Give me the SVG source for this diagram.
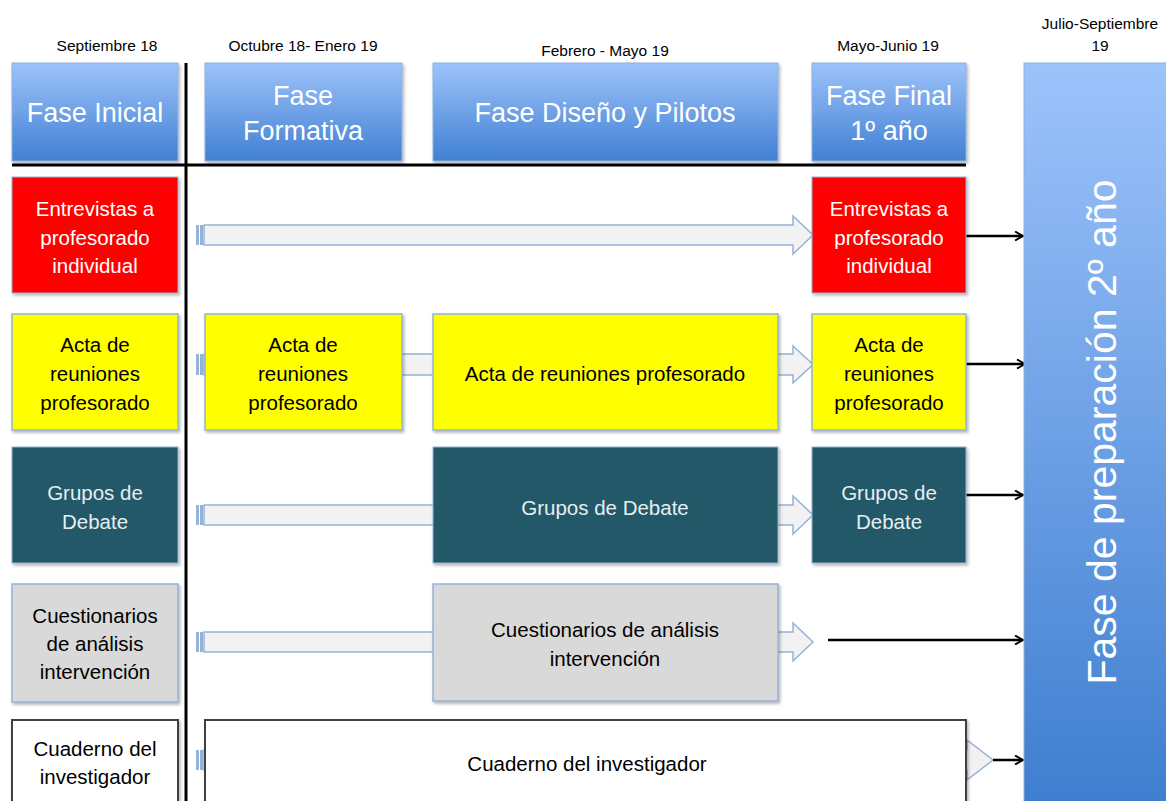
<svg xmlns="http://www.w3.org/2000/svg" width="1166" height="801" viewBox="0 0 1166 801">
<defs>
<linearGradient id="hdr" x1="0" y1="0" x2="0" y2="1">
<stop offset="0" stop-color="#9DC3FB"/>
<stop offset="1" stop-color="#4180D2"/>
</linearGradient>
<linearGradient id="big" x1="0" y1="0" x2="0" y2="1">
<stop offset="0" stop-color="#9DC3FB"/>
<stop offset="1" stop-color="#3E7ECF"/>
</linearGradient>
<filter id="sh" x="-10%" y="-10%" width="130%" height="130%">
<feDropShadow dx="1.5" dy="2" stdDeviation="1.5" flood-color="#000" flood-opacity="0.3"/>
</filter>
<marker id="ah" markerWidth="10" markerHeight="10" refX="9" refY="5" orient="auto" markerUnits="userSpaceOnUse">
<path d="M1,0.5 L9,5 L1,9.5" fill="none" stroke="#000" stroke-width="2"/>
</marker>
</defs>
<style>
text{font-family:"Liberation Sans","Open Sans",sans-serif;text-anchor:middle;dominant-baseline:central}
.date{font-size:15.5px;fill:#000}
.hdr{fill:url(#hdr);stroke:#8EB0DD;stroke-width:1;filter:url(#sh)}
.ht{font-size:27px;fill:#fff}
.bt{font-size:20.5px}
.red{fill:#FF0000;stroke:#95B3D7;stroke-width:1;filter:url(#sh)}
.yel{fill:#FFFF00;stroke:#95B3D7;stroke-width:1.5;filter:url(#sh)}
.teal{fill:#215967;stroke:#95B3D7;stroke-width:1;filter:url(#sh)}
.gray{fill:#D9D9D9;stroke:#95B3D7;stroke-width:1.5;filter:url(#sh)}
.wht{fill:#fff;stroke:#404040;stroke-width:2;filter:url(#sh)}
.blk{stroke:#000;stroke-width:3;fill:none}
.barr{fill:#F2F2F2;stroke:#95B3D7;stroke-width:1.5}
.strip{fill:#95B3D7}
.con{stroke:#000;stroke-width:2.5;fill:none;marker-end:url(#ah)}
</style>
<rect width="1166" height="801" fill="#fff"/>

<g id="dates">
<text class="date" x="107" y="45">Septiembre 18</text>
<text class="date" x="303" y="45">Octubre 18- Enero 19</text>
<text class="date" x="605" y="50">Febrero  - Mayo 19</text>
<text class="date" x="888" y="45">Mayo-Junio 19</text>
<text class="date" x="1100" y="23">Julio-Septiembre</text>
<text class="date" x="1100" y="45">19</text>
</g>

<g id="connectors">
<path class="barr" d="M204,225 H793 V216 L813,235 L793,254 V245 H204 Z"/>
<rect class="strip" x="196" y="225" width="3" height="20"/><rect class="strip" x="200" y="225" width="3" height="20"/>
<path class="barr" d="M204,354 H793 V346 L813,364.5 L793,383 V375 H204 Z"/>
<rect class="strip" x="196" y="354" width="3" height="21"/><rect class="strip" x="200" y="354" width="3" height="21"/>
<path class="barr" d="M204,505 H793 V496 L813,515 L793,534 V525 H204 Z"/>
<rect class="strip" x="196" y="505" width="3" height="20"/><rect class="strip" x="200" y="505" width="3" height="20"/>
<path class="barr" d="M204,632 H793 V623 L813,642 L793,661 V652 H204 Z"/>
<rect class="strip" x="196" y="632" width="3" height="20"/><rect class="strip" x="200" y="632" width="3" height="20"/>
<path class="barr" d="M204,750 H967 V740 L993,760 L967,780 V770 H204 Z"/>
<rect class="strip" x="196" y="750" width="3" height="20"/><rect class="strip" x="200" y="750" width="3" height="20"/>
<line class="con" x1="966" y1="236" x2="1023" y2="236"/>
<line class="con" x1="966" y1="364" x2="1025" y2="364"/>
<line class="con" x1="966" y1="495" x2="1023" y2="495"/>
<line class="con" x1="828" y1="640" x2="1023" y2="640"/>
<line class="con" x1="993" y1="760" x2="1023" y2="760"/>
</g>

<g id="fase-inicial"><rect class="hdr" x="12" y="63" width="166" height="98"/><text class="ht" x="95" y="113">Fase Inicial</text></g>
<g id="fase-formativa"><rect class="hdr" x="205" y="63" width="197" height="98"/><text class="ht" x="303" y="96">Fase</text><text class="ht" x="303" y="131">Formativa</text></g>
<g id="fase-diseno"><rect class="hdr" x="433" y="63" width="345" height="98"/><text class="ht" x="605" y="113">Fase Diseño y Pilotos</text></g>
<g id="fase-final"><rect class="hdr" x="812" y="63" width="154" height="98"/><text class="ht" x="889" y="96">Fase Final</text><text class="ht" x="889" y="131">1º año</text></g>
<g id="fase-preparacion"><rect x="1024" y="63" width="150" height="745" fill="url(#big)" stroke="#8EB0DD" stroke-width="1"/><text x="1102" y="432" transform="rotate(-90 1102 432)" font-size="41" fill="#fff">Fase de preparación 2º año</text></g>

<g id="lines">
<line class="blk" x1="186" y1="63" x2="186" y2="801"/>
<line class="blk" x1="12" y1="165" x2="966" y2="165"/>
</g>

<g id="entrevistas-1"><rect class="red" x="12" y="177" width="166" height="116"/>
<text class="bt" x="95" y="208" fill="#fff">Entrevistas a</text><text class="bt" x="95" y="237" fill="#fff">profesorado</text><text class="bt" x="95" y="265" fill="#fff">individual</text></g>
<g id="entrevistas-2"><rect class="red" x="812" y="177" width="154" height="116"/>
<text class="bt" x="889" y="208" fill="#fff">Entrevistas a</text><text class="bt" x="889" y="237" fill="#fff">profesorado</text><text class="bt" x="889" y="265" fill="#fff">individual</text></g>

<g id="acta-1"><rect class="yel" x="12" y="314" width="166" height="116"/>
<text class="bt" x="95" y="344">Acta de</text><text class="bt" x="95" y="373">reuniones</text><text class="bt" x="95" y="402">profesorado</text></g>
<g id="acta-2"><rect class="yel" x="205" y="314" width="197" height="116"/>
<text class="bt" x="303" y="344">Acta de</text><text class="bt" x="303" y="373">reuniones</text><text class="bt" x="303" y="402">profesorado</text></g>
<g id="acta-3"><rect class="yel" x="433" y="314" width="345" height="116"/>
<text class="bt" x="605" y="373">Acta de reuniones profesorado</text></g>
<g id="acta-4"><rect class="yel" x="812" y="314" width="154" height="116"/>
<text class="bt" x="889" y="344">Acta de</text><text class="bt" x="889" y="373">reuniones</text><text class="bt" x="889" y="402">profesorado</text></g>

<g id="grupos-1"><rect class="teal" x="12" y="447" width="166" height="116"/>
<text class="bt" x="95" y="492" fill="#E6EEF0">Grupos de</text><text class="bt" x="95" y="521" fill="#E6EEF0">Debate</text></g>
<g id="grupos-2"><rect class="teal" x="433" y="447" width="345" height="116"/>
<text class="bt" x="605" y="507" fill="#E6EEF0">Grupos de Debate</text></g>
<g id="grupos-3"><rect class="teal" x="812" y="447" width="154" height="116"/>
<text class="bt" x="889" y="492" fill="#E6EEF0">Grupos de</text><text class="bt" x="889" y="521" fill="#E6EEF0">Debate</text></g>

<g id="cuestionarios-1"><rect class="gray" x="12" y="584" width="166" height="118"/>
<text class="bt" x="95" y="615">Cuestionarios</text><text class="bt" x="95" y="643">de análisis</text><text class="bt" x="95" y="671">intervención</text></g>
<g id="cuestionarios-2"><rect class="gray" x="433" y="584" width="345" height="117"/>
<text class="bt" x="605" y="629">Cuestionarios de análisis</text><text class="bt" x="605" y="658">intervención</text></g>

<g id="cuaderno-1"><rect class="wht" x="12" y="720" width="166" height="95"/>
<text class="bt" x="95" y="748">Cuaderno del</text><text class="bt" x="95" y="776">investigador</text></g>
<g id="cuaderno-2"><rect class="wht" x="205" y="720" width="761" height="95"/>
<text class="bt" x="587" y="763">Cuaderno del investigador</text></g>
</svg>
